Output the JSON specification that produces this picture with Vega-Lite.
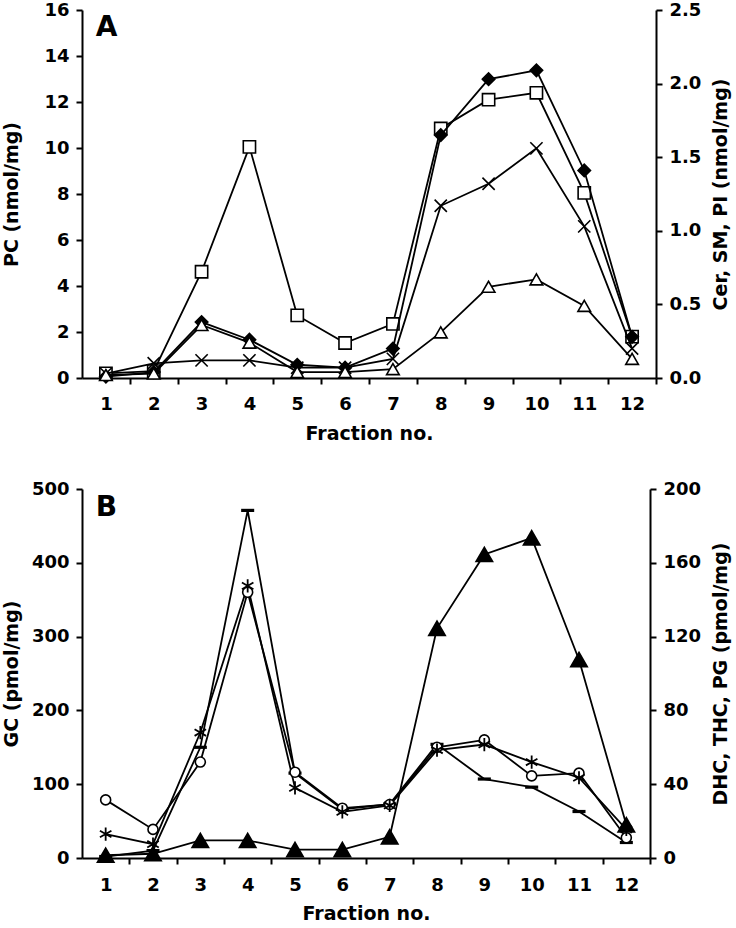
{
  "$schema": "https://vega.github.io/schema/vega-lite/v6.json",
  "background": "white",
  "padding": {"left": 2, "top": 1, "right": 1, "bottom": 0},
  "config": {
    "view": {"stroke": null},
    "font": "DejaVu Sans",
    "axis": {
      "labelFont": "DejaVu Sans", "labelFontWeight": "bold", "labelFontSize": 18, "labelColor": "black",
      "titleFont": "DejaVu Sans", "titleFontWeight": "bold", "titleFontSize": 19, "titleColor": "black",
      "domainColor": "black", "domainWidth": 2, "tickColor": "black", "tickWidth": 2, "tickSize": 6,
      "grid": false, "labelPadding": 7, "labelFlush": false, "labelOverlap": false
    }
  },
  "datasets": {
    "A": [
      {"series": "PC", "fraction": 1, "value": 0.2}, {"series": "PC", "fraction": 2, "value": 0.3},
      {"series": "PC", "fraction": 3, "value": 4.62}, {"series": "PC", "fraction": 4, "value": 10.05},
      {"series": "PC", "fraction": 5, "value": 2.72}, {"series": "PC", "fraction": 6, "value": 1.52},
      {"series": "PC", "fraction": 7, "value": 2.35}, {"series": "PC", "fraction": 8, "value": 10.85},
      {"series": "PC", "fraction": 9, "value": 12.1}, {"series": "PC", "fraction": 10, "value": 12.4},
      {"series": "PC", "fraction": 11, "value": 8.05}, {"series": "PC", "fraction": 12, "value": 1.8},
      {"series": "Cer", "fraction": 1, "value": 0.03}, {"series": "Cer", "fraction": 2, "value": 0.1},
      {"series": "Cer", "fraction": 3, "value": 0.12}, {"series": "Cer", "fraction": 4, "value": 0.12},
      {"series": "Cer", "fraction": 5, "value": 0.07}, {"series": "Cer", "fraction": 6, "value": 0.07},
      {"series": "Cer", "fraction": 7, "value": 0.13}, {"series": "Cer", "fraction": 8, "value": 1.17},
      {"series": "Cer", "fraction": 9, "value": 1.32}, {"series": "Cer", "fraction": 10, "value": 1.56},
      {"series": "Cer", "fraction": 11, "value": 1.03}, {"series": "Cer", "fraction": 12, "value": 0.2},
      {"series": "SM", "fraction": 1, "value": 0.01}, {"series": "SM", "fraction": 2, "value": 0.04},
      {"series": "SM", "fraction": 3, "value": 0.38}, {"series": "SM", "fraction": 4, "value": 0.26},
      {"series": "SM", "fraction": 5, "value": 0.09}, {"series": "SM", "fraction": 6, "value": 0.07},
      {"series": "SM", "fraction": 7, "value": 0.2}, {"series": "SM", "fraction": 8, "value": 1.65},
      {"series": "SM", "fraction": 9, "value": 2.03}, {"series": "SM", "fraction": 10, "value": 2.09},
      {"series": "SM", "fraction": 11, "value": 1.41}, {"series": "SM", "fraction": 12, "value": 0.28},
      {"series": "PI", "fraction": 1, "value": 0.02}, {"series": "PI", "fraction": 2, "value": 0.03},
      {"series": "PI", "fraction": 3, "value": 0.36}, {"series": "PI", "fraction": 4, "value": 0.24},
      {"series": "PI", "fraction": 5, "value": 0.04}, {"series": "PI", "fraction": 6, "value": 0.04},
      {"series": "PI", "fraction": 7, "value": 0.06}, {"series": "PI", "fraction": 8, "value": 0.31},
      {"series": "PI", "fraction": 9, "value": 0.62}, {"series": "PI", "fraction": 10, "value": 0.67},
      {"series": "PI", "fraction": 11, "value": 0.49}, {"series": "PI", "fraction": 12, "value": 0.13}
    ],
    "B": [
      {"series": "GC", "fraction": 1, "value": 2}, {"series": "GC", "fraction": 2, "value": 10},
      {"series": "GC", "fraction": 3, "value": 150}, {"series": "GC", "fraction": 4, "value": 471},
      {"series": "GC", "fraction": 5, "value": 115}, {"series": "GC", "fraction": 6, "value": 66},
      {"series": "GC", "fraction": 7, "value": 73}, {"series": "GC", "fraction": 8, "value": 154},
      {"series": "GC", "fraction": 9, "value": 107}, {"series": "GC", "fraction": 10, "value": 96},
      {"series": "GC", "fraction": 11, "value": 63}, {"series": "GC", "fraction": 12, "value": 21},
      {"series": "DHC", "fraction": 1, "value": 31.5}, {"series": "DHC", "fraction": 2, "value": 15.5},
      {"series": "DHC", "fraction": 3, "value": 52}, {"series": "DHC", "fraction": 4, "value": 144},
      {"series": "DHC", "fraction": 5, "value": 46.5}, {"series": "DHC", "fraction": 6, "value": 27},
      {"series": "DHC", "fraction": 7, "value": 29}, {"series": "DHC", "fraction": 8, "value": 60},
      {"series": "DHC", "fraction": 9, "value": 64}, {"series": "DHC", "fraction": 10, "value": 44.5},
      {"series": "DHC", "fraction": 11, "value": 46}, {"series": "DHC", "fraction": 12, "value": 11},
      {"series": "THC", "fraction": 1, "value": 13}, {"series": "THC", "fraction": 2, "value": 7.5},
      {"series": "THC", "fraction": 3, "value": 68}, {"series": "THC", "fraction": 4, "value": 147.5},
      {"series": "THC", "fraction": 5, "value": 38}, {"series": "THC", "fraction": 6, "value": 25},
      {"series": "THC", "fraction": 7, "value": 28.5}, {"series": "THC", "fraction": 8, "value": 58.5},
      {"series": "THC", "fraction": 9, "value": 61.5}, {"series": "THC", "fraction": 10, "value": 52},
      {"series": "THC", "fraction": 11, "value": 43.5}, {"series": "THC", "fraction": 12, "value": 15.5},
      {"series": "PG", "fraction": 1, "value": 1.5}, {"series": "PG", "fraction": 2, "value": 2.3},
      {"series": "PG", "fraction": 3, "value": 9.5}, {"series": "PG", "fraction": 4, "value": 9.5},
      {"series": "PG", "fraction": 5, "value": 4.5}, {"series": "PG", "fraction": 6, "value": 4.5},
      {"series": "PG", "fraction": 7, "value": 11.5}, {"series": "PG", "fraction": 8, "value": 124.5},
      {"series": "PG", "fraction": 9, "value": 164.5}, {"series": "PG", "fraction": 10, "value": 173.5},
      {"series": "PG", "fraction": 11, "value": 107.5}, {"series": "PG", "fraction": 12, "value": 18}
    ]
  },
  "spacing": 37,
  "vconcat": [
    {
      "width": 574,
      "height": 368,
      "encoding": {
        "x": {
          "field": "fraction", "type": "quantitative",
          "scale": {"domain": [0.5, 12.5], "nice": false, "zero": false},
          "axis": {"values": [1, 2, 3, 4, 5, 6, 7, 8, 9, 10, 11, 12], "tickOffset": 23.92, "labelOffset": -23.92,
                   "title": "Fraction no.", "labelPadding": 11, "titlePadding": 11}
        }
      },
      "layer": [
        {
          "encoding": {
            "y": {
              "field": "value", "type": "quantitative",
              "scale": {"domain": [0, 16], "nice": false},
              "axis": {"values": [0, 2, 4, 6, 8, 10, 12, 14, 16], "title": "PC (nmol/mg)", "titlePadding": 22}
            }
          },
          "layer": [
            {
              "data": {"name": "A"},
              "transform": [{"filter": "datum.series === 'PC'"}],
              "mark": {"type": "line", "color": "black", "strokeWidth": 1.8}
            },
            {
              "data": {"name": "A"},
              "transform": [{"filter": "datum.series === 'PC'"}],
              "mark": {"type": "point", "shape": "square", "filled": true, "fill": "white", "stroke": "black", "strokeWidth": 1.6, "size": 150, "opacity": 1}
            },
            {
              "data": {"name": "A"},
              "transform": [{"filter": "datum.series === 'PC' && datum.fraction === 1"}],
              "mark": {"type": "text", "text": "A", "fontSize": 28, "fontWeight": "bold", "font": "DejaVu Sans", "align": "left", "baseline": "alphabetic", "fill": "black"},
              "encoding": {
                "x": {"datum": 0.79, "type": "quantitative"},
                "y": {"datum": 14.87, "type": "quantitative"}
              }
            }
          ]
        },
        {
          "data": {"name": "A"},
          "transform": [{"filter": "datum.series !== 'PC'"}],
          "encoding": {
            "y": {
              "field": "value", "type": "quantitative",
              "scale": {"domain": [0, 2.5], "nice": false},
              "axis": {"orient": "right", "values": [0, 0.5, 1, 1.5, 2, 2.5], "format": ".1f", "title": "Cer, SM, PI (nmol/mg)",
                       "titleAngle": 270, "titleBaseline": "top", "titlePadding": 11}
            }
          },
          "layer": [
            {
              "mark": {"type": "line", "color": "black", "strokeWidth": 1.8},
              "encoding": {"detail": {"field": "series"}}
            },
            {
              "mark": {"type": "point", "filled": true, "stroke": "black", "strokeWidth": 1.6, "opacity": 1},
              "encoding": {
                "shape": {"field": "series", "scale": {"domain": ["Cer", "SM", "PI"], "range": ["M-1,-1L1,1M-1,1L1,-1", "diamond", "triangle-up"]}, "legend": null},
                "fill": {"field": "series", "scale": {"domain": ["Cer", "SM", "PI"], "range": ["white", "black", "white"]}, "legend": null},
                "size": {"field": "series", "scale": {"domain": ["Cer", "SM", "PI"], "range": [150, 160, 170]}, "legend": null}
              }
            }
          ]
        }
      ],
      "resolve": {"scale": {"y": "independent", "shape": "independent", "fill": "independent", "size": "independent"}}
    },
    {
      "width": 568,
      "height": 369,
      "encoding": {
        "x": {
          "field": "fraction", "type": "quantitative",
          "scale": {"domain": [0.5, 12.5], "nice": false, "zero": false},
          "axis": {"values": [1, 2, 3, 4, 5, 6, 7, 8, 9, 10, 11, 12], "tickOffset": 23.67, "labelOffset": -23.67,
                   "title": "Fraction no.", "labelPadding": 12, "titlePadding": 10}
        }
      },
      "layer": [
        {
          "encoding": {
            "y": {
              "field": "value", "type": "quantitative",
              "scale": {"domain": [0, 500], "nice": false},
              "axis": {"values": [0, 100, 200, 300, 400, 500], "title": "GC (pmol/mg)", "titlePadding": 10}
            }
          },
          "layer": [
            {
              "data": {"name": "B"},
              "transform": [{"filter": "datum.series === 'GC'"}],
              "mark": {"type": "line", "color": "black", "strokeWidth": 1.8}
            },
            {
              "data": {"name": "B"},
              "transform": [{"filter": "datum.series === 'GC'"}],
              "mark": {"type": "point", "shape": "M-1,0L1,0", "filled": false, "stroke": "black", "strokeWidth": 3.2, "size": 170, "opacity": 1}
            },
            {
              "data": {"name": "B"},
              "transform": [{"filter": "datum.series === 'GC' && datum.fraction === 1"}],
              "mark": {"type": "text", "text": "B", "fontSize": 28, "fontWeight": "bold", "font": "DejaVu Sans", "align": "left", "baseline": "alphabetic", "fill": "black"},
              "encoding": {
                "x": {"datum": 0.79, "type": "quantitative"},
                "y": {"datum": 464, "type": "quantitative"}
              }
            }
          ]
        },
        {
          "data": {"name": "B"},
          "transform": [{"filter": "datum.series !== 'GC'"}],
          "encoding": {
            "y": {
              "field": "value", "type": "quantitative",
              "scale": {"domain": [0, 200], "nice": false},
              "axis": {"orient": "right", "values": [0, 40, 80, 120, 160, 200], "title": "DHC, THC, PG (pmol/mg)",
                       "titleAngle": 270, "titleBaseline": "top", "titlePadding": 11}
            }
          },
          "layer": [
            {
              "mark": {"type": "line", "color": "black", "strokeWidth": 1.8},
              "encoding": {"detail": {"field": "series"}}
            },
            {
              "mark": {"type": "point", "filled": true, "stroke": "black", "opacity": 1},
              "encoding": {
                "shape": {"field": "series", "scale": {"domain": ["DHC", "THC", "PG"], "range": ["circle", "M0,-1L0,1M-0.87,-0.5L0.87,0.5M-0.87,0.5L0.87,-0.5", "triangle-up"]}, "legend": null},
                "fill": {"field": "series", "scale": {"domain": ["DHC", "THC", "PG"], "range": ["white", "white", "black"]}, "legend": null},
                "size": {"field": "series", "scale": {"domain": ["DHC", "THC", "PG"], "range": [100, 250, 170]}, "legend": null},
                "strokeWidth": {"field": "series", "scale": {"domain": ["DHC", "THC", "PG"], "range": [1.6, 2, 1.6]}, "legend": null}
              }
            }
          ]
        }
      ],
      "resolve": {"scale": {"y": "independent", "shape": "independent", "fill": "independent", "size": "independent", "strokeWidth": "independent"}}
    }
  ]
}
